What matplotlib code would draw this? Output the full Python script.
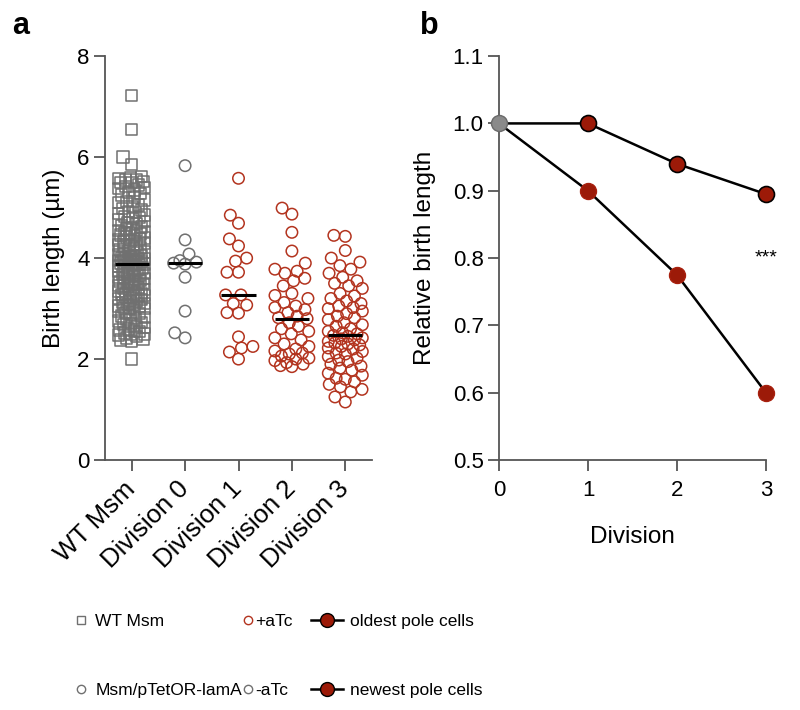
import numpy as np
import matplotlib
matplotlib.use("Agg")
import matplotlib.pyplot as plt
from matplotlib.lines import Line2D

plt.rcParams["font.family"] = ["Liberation Sans", "DejaVu Sans"]

GRAY = "#707070"
RED = "#b3341f"
DARK_RED = "#9c1a08"
AXIS_COLOR = "#555555"

# ---- panel a data (birth length, um) ----
categories = ["WT Msm", "Division 0", "Division 1", "Division 2", "Division 3"]

wt_msm = [
    7.22, 6.55, 6.00, 5.85,
    5.62, 5.60, 5.58, 5.55, 5.55, 5.52, 5.50, 5.50,
    5.45, 5.42, 5.40, 5.38, 5.35, 5.30, 5.28, 5.25, 5.20, 5.15, 5.12, 5.10, 5.05, 5.02,
    4.98, 4.95, 4.92, 4.90, 4.88, 4.85, 4.82, 4.80, 4.78, 4.75, 4.72, 4.70, 4.68, 4.65,
    4.62, 4.60, 4.58, 4.55, 4.55, 4.52, 4.50, 4.50,
    4.48, 4.46, 4.45, 4.42, 4.40, 4.38, 4.36, 4.35, 4.32, 4.30, 4.28, 4.26, 4.25, 4.22,
    4.20, 4.18, 4.16, 4.15, 4.12, 4.10, 4.08, 4.06, 4.05, 4.04, 4.02, 4.00, 4.00, 3.98,
    3.96, 3.95, 3.98, 3.97,
    3.94, 3.93, 3.92, 3.91, 3.90, 3.90, 3.88, 3.87, 3.86, 3.85, 3.84, 3.82, 3.80, 3.78,
    3.76, 3.75, 3.74, 3.72, 3.70, 3.68, 3.66, 3.65, 3.64, 3.62, 3.60, 3.60, 3.58, 3.56,
    3.55, 3.54, 3.52, 3.50, 3.50, 3.50,
    3.48, 3.46, 3.45, 3.42, 3.40, 3.38, 3.36, 3.35, 3.32, 3.30, 3.28, 3.26, 3.25, 3.22,
    3.20, 3.18, 3.16, 3.15, 3.12, 3.10, 3.08, 3.06, 3.05, 3.04, 3.02, 3.00, 3.00, 3.30,
    3.28, 3.25,
    2.98, 2.95, 2.92, 2.90, 2.88, 2.85, 2.82, 2.80, 2.78, 2.75, 2.72, 2.70, 2.68, 2.65,
    2.62, 2.60, 2.58, 2.55, 2.55, 2.52, 2.50, 2.50,
    2.48, 2.45, 2.42, 2.40, 2.38, 2.35, 2.00,
]

division_0 = [5.83, 4.36, 4.08, 3.95, 3.92, 3.90, 3.88, 3.62, 2.95, 2.52, 2.42]

division_1 = [5.58, 4.85, 4.69, 4.38, 4.24, 4.00, 3.94, 3.72, 3.72, 3.27, 3.27,
              3.10, 3.07, 2.92, 2.91, 2.44, 2.25, 2.22, 2.14, 2.00]

division_2 = [4.99, 4.87, 4.51, 4.14, 3.90, 3.78, 3.74, 3.70, 3.60, 3.55, 3.45,
              3.30, 3.26, 3.20, 3.12, 3.05, 3.02, 2.98, 2.92, 2.85, 2.82, 2.80,
              2.72, 2.65, 2.60, 2.55, 2.50, 2.42, 2.38, 2.30, 2.25, 2.20, 2.16,
              2.12, 2.10, 2.06, 2.02, 2.00, 1.97, 1.93, 1.90, 1.87, 1.85]

division_3 = [4.45, 4.43, 4.15, 4.00, 3.92, 3.85, 3.78, 3.70, 3.62, 3.55, 3.50,
              3.45, 3.40, 3.30, 3.25, 3.20, 3.15, 3.10, 3.05, 3.02, 3.00, 2.95,
              2.90, 2.85, 2.82, 2.78, 2.72, 2.68, 2.65, 2.60, 2.55, 2.52, 2.50,
              2.47,
              2.45, 2.42, 2.40, 2.38, 2.35, 2.32, 2.30, 2.28, 2.25, 2.22, 2.20,
              2.15, 2.12, 2.10, 2.05, 2.02, 1.98, 1.95, 1.90, 1.86, 1.82, 1.78,
              1.72, 1.68, 1.62, 1.60, 1.55, 1.50, 1.45, 1.40, 1.35, 1.25, 1.15]

groups = [wt_msm, division_0, division_1, division_2, division_3]
group_markers = ["s", "o", "o", "o", "o"]
group_colors = [GRAY, GRAY, RED, RED, RED]
group_half_width = [13, 17, 17, 17, 17]   # max sideways spread, pixels

# ---- panel b data (relative birth length) ----
division_steps = [0, 1, 2, 3]
oldest_pole = [1.0, 1.0, 0.94, 0.895]
newest_pole = [1.0, 0.90, 0.775, 0.60]


def swarm_offsets(values, px_per_x, px_per_y, diameter=11.5, max_half=17.0):
    """Beeswarm layout in pixel space; overflow points go to the least crowded spot."""
    values = np.asarray(values, dtype=float)
    offsets = np.zeros(len(values))
    placed = []
    grid = np.linspace(-max_half, max_half, 27)
    for i in np.argsort(values):
        y = values[i] * px_per_y
        near = [(px, py) for px, py in placed if abs(py - y) < diameter]
        cands = [0.0]
        for px, py in near:
            dx = np.sqrt(diameter ** 2 - (py - y) ** 2)
            cands += [px - dx, px + dx]
        cands = [c for c in cands if abs(c) <= max_half + 1e-9]
        ok = [c for c in cands
              if all((c - px) ** 2 + (y - py) ** 2 >= diameter ** 2 - 1e-6 for px, py in near)]
        if ok:
            x = min(ok, key=abs)
        else:
            dist = [min((g - px) ** 2 + (y - py) ** 2 for px, py in near) for g in grid]
            x = grid[int(np.argmax(dist))]
        placed.append((x, y))
        offsets[i] = x / px_per_x
    return offsets


def style_axis(axis):
    for side in ["top", "right"]:
        axis.spines[side].set_visible(False)
    for side in ["left", "bottom"]:
        axis.spines[side].set_color(AXIS_COLOR)
        axis.spines[side].set_linewidth(1.3)
    axis.tick_params(direction="out", length=8, width=1.3, color=AXIS_COLOR,
                     labelsize=16, pad=3)


fig = plt.figure(figsize=(8, 7.1), dpi=100)

# ---------------- panel a ----------------
ax_a = fig.add_axes([0.13125, 0.352, 0.33375, 0.569])
style_axis(ax_a)
ax_a.set_xlim(-0.5, len(categories) - 0.5)
ax_a.set_ylim(0, 8)

bbox = ax_a.get_window_extent()
px_x = bbox.width / len(categories)
px_y = bbox.height / 8.0

for i, values in enumerate(groups):
    offs = swarm_offsets(values, px_x, px_y, max_half=group_half_width[i])
    ax_a.scatter(i + offs, values, s=68, marker=group_markers[i],
                 facecolors="none", edgecolors=group_colors[i],
                 linewidths=1.1, clip_on=False, zorder=2)
    med = np.median(values)
    ax_a.plot([i - 0.32, i + 0.32], [med, med], color="black", lw=2.2,
              solid_capstyle="butt", zorder=3)

ax_a.set_yticks([0, 2, 4, 6, 8])
ax_a.set_xticks(range(len(categories)))
ax_a.set_xticklabels(categories, rotation=45, ha="right", va="center",
                     rotation_mode="anchor", fontsize=18.5)
ax_a.tick_params(axis="x", pad=10)
ax_a.set_ylabel("Birth length (\u00b5m)", fontsize=17.5, labelpad=9)

# ---------------- panel b ----------------
ax_b = fig.add_axes([0.62375, 0.352, 0.33375, 0.569])
style_axis(ax_b)

ax_b.plot(division_steps, oldest_pole, color="black", lw=1.8, zorder=2,
          clip_on=False)
ax_b.plot(division_steps, newest_pole, color="black", lw=1.8, zorder=2,
          clip_on=False)
ax_b.plot(division_steps[1:], oldest_pole[1:], "o", ms=11.5, mfc=DARK_RED,
          mec="black", mew=1.2, zorder=3, clip_on=False)
ax_b.plot(division_steps[1:], newest_pole[1:], "o", ms=11.5, mfc=DARK_RED,
          mec="#a8200e", mew=1.0, zorder=3, clip_on=False)
ax_b.plot(division_steps[:1], oldest_pole[:1], "o", ms=11.5, mfc="#8a8a8a",
          mec="#6a6a6a", mew=1.0, zorder=4, clip_on=False)

ax_b.text(division_steps[-1], 0.8, "***", ha="center", va="center", fontsize=14)

ax_b.set_xlim(0, 3)
ax_b.set_ylim(0.5, 1.1)
ax_b.set_xticks(division_steps)
ax_b.set_yticks(np.round(np.arange(0.5, 1.11, 0.1), 1))
ax_b.yaxis.set_major_formatter(matplotlib.ticker.FormatStrFormatter("%.1f"))
ax_b.tick_params(axis="x", pad=6)
ax_b.set_xlabel("Division", fontsize=17.5, labelpad=18)
ax_b.set_ylabel("Relative birth length", fontsize=17.5, labelpad=12)

# panel letters
fig.text(0.015, 0.963, "a", fontsize=22, fontweight="bold", va="center")
fig.text(0.525, 0.963, "b", fontsize=22, fontweight="bold", va="center")

# ---------------- legends ----------------
legend_font = {"family": "Liberation Sans", "size": 12.5}
legend_kw = dict(frameon=False, prop=legend_font, loc="upper left", borderpad=0,
                 borderaxespad=0, labelspacing=3.15)

col1 = [Line2D([], [], ls="none", marker="s", ms=6, mfc="none", mec=GRAY, mew=1.0),
        Line2D([], [], ls="none", marker="o", ms=6, mfc="none", mec=GRAY, mew=1.0)]
fig.legend(col1, ["WT Msm", "Msm/pTetOR-lamA"], bbox_to_anchor=(0.091, 0.136),
           handlelength=1.0, handletextpad=0.3, **legend_kw)

col2 = [Line2D([], [], ls="none", marker="o", ms=6, mfc="none", mec=RED, mew=1.0),
        Line2D([], [], ls="none", marker="o", ms=6, mfc="none", mec=GRAY, mew=1.0)]
fig.legend(col2, ["+aTc", "-aTc"], bbox_to_anchor=(0.304, 0.136),
           handlelength=0.5, handletextpad=0.2, **legend_kw)

col3 = [Line2D([], [], color="black", lw=1.8, marker="o", ms=10, mfc=DARK_RED,
               mec="black", mew=1.0),
        Line2D([], [], color="black", lw=1.8, marker="o", ms=10, mfc=DARK_RED,
               mec="black", mew=1.0)]
fig.legend(col3, ["oldest pole cells", "newest pole cells"],
           bbox_to_anchor=(0.389, 0.136), handlelength=1.85, handletextpad=0.4,
           **legend_kw)

fig.savefig("out.png", dpi=100)
